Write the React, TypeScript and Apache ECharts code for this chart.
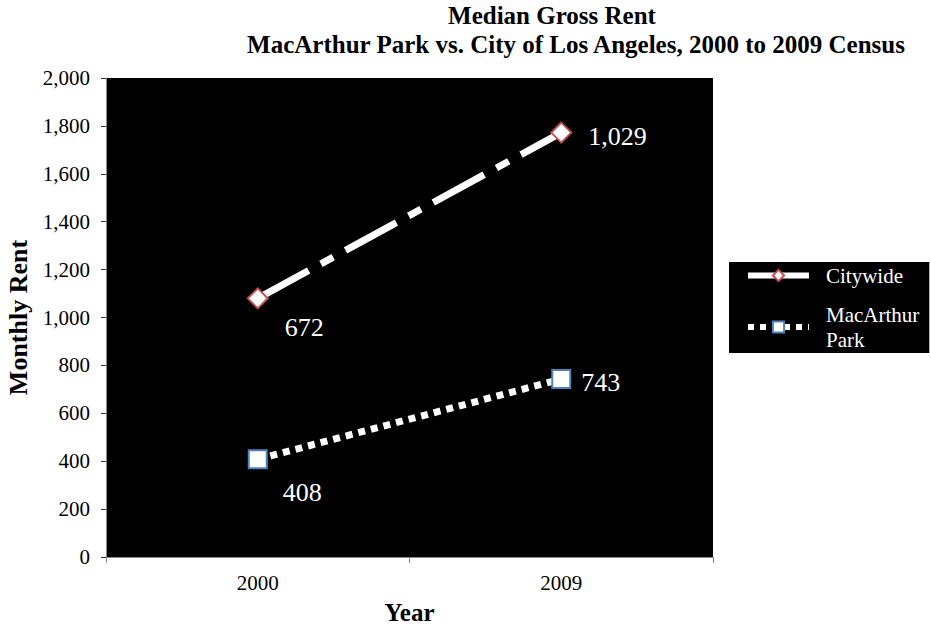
import React, { useEffect, useRef } from "react";
import * as echarts from "echarts";

const years = ["2000", "2009"];
const macArthur = [408, 743];
const citywide = [672, 1029];
const yTicks = { min: 0, max: 2000, interval: 200 };

const FONT = "Liberation Serif";

// label nudges per data point (pixels)
const cityLabelShift = [
  { dx: 16, dy: 29 },
  { dx: 16, dy: 4 },
];
const macLabelShift = [
  { dx: 15, dy: 33 },
  { dx: 10, dy: 3 },
];

export default function App() {
  const ref = useRef<HTMLDivElement>(null);
  useEffect(() => {
    const chart = echarts.init(ref.current!, undefined, { renderer: "svg" });
    const labelCommon = {
      show: true,
      color: "#fff",
      fontFamily: FONT,
      fontSize: 26,
      position: "right",
      distance: 0,
      formatter: (p: any) => Number(p.value).toLocaleString("en-US"),
    };
    chart.setOption({
      animation: false,
      textStyle: { fontFamily: FONT },
      title: [
        {
          text: "Median Gross Rent",
          left: 552,
          top: 3,
          padding: 0,
          textAlign: "center",
          textStyle: { fontFamily: FONT, fontSize: 25, lineHeight: 25, fontWeight: "bold", color: "#000" },
        },
        {
          text: "MacArthur Park vs. City of Los Angeles, 2000 to 2009 Census",
          left: 576,
          top: 32,
          padding: 0,
          textAlign: "center",
          textStyle: { fontFamily: FONT, fontSize: 25, lineHeight: 25, fontWeight: "bold", color: "#000" },
        },
      ],
      grid: {
        left: 106,
        right: 218,
        top: 78,
        bottom: 71,
        show: true,
        backgroundColor: "#000",
        borderWidth: 0,
        containLabel: false,
        outerBoundsMode: "none",
      },
      legend: {
        orient: "vertical",
        left: 729,
        top: 262,
        backgroundColor: "#000",
        padding: [1, 10, 1, 16],
        itemWidth: 61,
        itemHeight: 14,
        itemGap: 14,
        lineStyle: { width: 6 },
        data: [
          {
            name: "Citywide",
            itemStyle: { color: "#fff", borderColor: "#c0504d", borderWidth: 2 },
            lineStyle: { color: "#fff", width: 6, type: "solid" },
          },
          {
            name: "MacArthur Park",
            itemStyle: { color: "#fff", borderColor: "#4f81bd", borderWidth: 2 },
            lineStyle: { color: "#fff", width: 6, type: [6, 6] },
          },
        ],
        textStyle: {
          color: "#fff",
          fontFamily: FONT,
          fontSize: 21,
          lineHeight: 25,
          padding: [0, 0, 0, 12],
        },
        formatter: (name: string) => (name === "MacArthur Park" ? "MacArthur\nPark" : name),
      },
      xAxis: {
        type: "category",
        data: years,
        boundaryGap: true,
        name: "Year",
        nameLocation: "middle",
        nameGap: 45,
        nameTextStyle: { fontFamily: FONT, fontSize: 25, lineHeight: 20, fontWeight: "bold", color: "#000" },
        axisLine: { lineStyle: { color: "#888" } },
        axisTick: { show: true, length: 6, lineStyle: { color: "#888" } },
        axisLabel: { fontFamily: FONT, fontSize: 21, color: "#000", margin: 15 },
      },
      yAxis: {
        type: "value",
        min: yTicks.min,
        max: yTicks.max,
        interval: yTicks.interval,
        name: "Monthly Rent",
        nameLocation: "middle",
        nameGap: 73,
        nameTextStyle: { fontFamily: FONT, fontSize: 26, fontWeight: "bold", color: "#000" },
        axisLine: { show: true, lineStyle: { color: "#888" } },
        axisTick: { show: true, length: 5, lineStyle: { color: "#333" } },
        splitLine: { show: false },
        axisLabel: {
          fontFamily: FONT,
          fontSize: 21,
          color: "#000",
          margin: 16,
          formatter: (v: number) => v.toLocaleString("en-US"),
        },
      },
      series: [
        {
          name: "MacArthur Park",
          type: "line",
          stack: "total",
          data: macArthur,
          symbol: "rect",
          symbolSize: 18,
          lineStyle: { color: "#fff", width: 7, type: [7, 6] },
          itemStyle: { color: "#fff", borderColor: "#4f81bd", borderWidth: 2 },
          label: labelCommon,
          labelLayout: (p: any) => macLabelShift[p.dataIndex],
        },
        {
          name: "Citywide",
          type: "line",
          stack: "total",
          data: citywide,
          symbol: "diamond",
          symbolSize: 20,
          lineStyle: { color: "#fff", width: 7, type: [58, 14, 14, 14] },
          itemStyle: { color: "#fff", borderColor: "#c0504d", borderWidth: 2 },
          label: labelCommon,
          labelLayout: (p: any) => cityLabelShift[p.dataIndex],
        },
      ],
    });
    return () => chart.dispose();
  }, []);
  return (
    <div
      ref={ref}
      style={{ position: "fixed", left: 0, top: 0, width: 931, height: 628, background: "#fff" }}
    />
  );
}
